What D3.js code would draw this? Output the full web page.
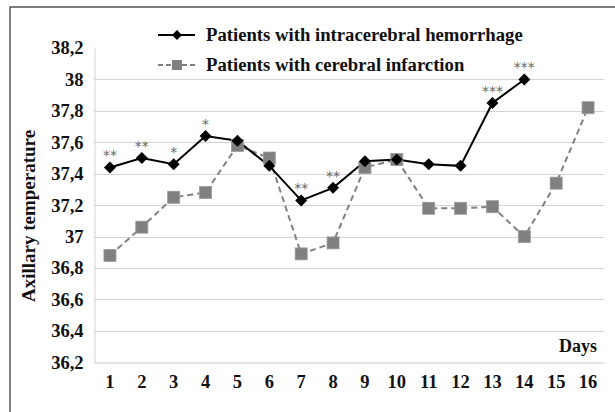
<!DOCTYPE html>
<html>
<head>
<meta charset="utf-8">
<script src="https://cdn.jsdelivr.net/npm/d3@7"></script>
<style>
  body { margin: 0; background: #fff; }
  text { font-family: "Liberation Serif", "DejaVu Serif", serif; }
</style>
</head>
<body>
<script>
var days = ["1","2","3","4","5","6","7","8","9","10","11","12","13","14","15","16"];
var hemorrhage = [37.44, 37.50, 37.46, 37.64, 37.61, 37.45, 37.23, 37.31, 37.48, 37.49, 37.46, 37.45, 37.85, 38.00];
var infarction = [36.88, 37.06, 37.25, 37.28, 37.58, 37.50, 36.89, 36.96, 37.44, 37.49, 37.18, 37.18, 37.19, 37.00, 37.34, 37.82];
var stars = ["**","**","*","*","","","**","**","","","","","***","***"];
var yTicks = [36.2, 36.4, 36.6, 36.8, 37, 37.2, 37.4, 37.6, 37.8, 38, 38.2];
var seriesNames = ["Patients with intracerebral hemorrhage", "Patients with cerebral infarction"];

var svgWidth = 615;
var svgHeight = 412;

var svg = d3.select("body")
            .append("svg")
            .attr("width", svgWidth)
            .attr("height", svgHeight);

// outer frame (runs off the right and bottom like the original crop)
svg.append("rect")
   .attr("x", 10).attr("y", 7)
   .attr("width", 640).attr("height", 440)
   .attr("fill", "none")
   .attr("stroke", "#555")
   .attr("stroke-width", 1.5);

var x = d3.scaleBand()
          .domain(days)
          .range([94, 604]);

var y = d3.scaleLinear()
          .domain([36.2, 38.2])
          .range([362.3, 48]);

var fmt = function(d) { return String(+d.toFixed(1)).replace(".", ","); };

// gridlines
svg.append("g")
   .selectAll("line")
   .data(yTicks.filter(function(d) { return d > 36.2 && d < 38.2; }))
   .enter()
   .append("line")
   .attr("x1", 94).attr("x2", 604)
   .attr("y1", function(d) { return Math.round(y(d)) + 0.5; })
   .attr("y2", function(d) { return Math.round(y(d)) + 0.5; })
   .attr("stroke", "#d4d4d4")
   .attr("stroke-width", 1);

// y axis
var yAxis = d3.axisLeft(y).tickValues(yTicks).tickFormat(fmt).tickSize(0).tickPadding(11);
var gy = svg.append("g")
   .attr("transform", "translate(94.5,0)")
   .call(yAxis);
gy.select(".domain").attr("stroke", "#d4d4d4");
gy.selectAll("text")
  .attr("font-size", "18.5px")
  .attr("font-weight", "bold")
  .attr("fill", "#111")
  .style("font-family", "'Liberation Serif', serif");

// x axis
var xAxis = d3.axisBottom(x).tickSize(0).tickPadding(12);
var gx = svg.append("g")
   .attr("transform", "translate(0," + (Math.round(y(36.2)) + 0.5) + ")")
   .call(xAxis);
gx.select(".domain").attr("stroke", "#c8c8c8");
gx.selectAll("text")
  .attr("font-size", "18.5px")
  .attr("font-weight", "bold")
  .attr("fill", "#111")
  .style("font-family", "'Liberation Serif', serif");

// axis titles
svg.append("text")
   .attr("x", 597).attr("y", 352)
   .attr("text-anchor", "end")
   .attr("font-size", "18px")
   .attr("font-weight", "bold")
   .attr("fill", "#111")
   .text("Days");

svg.append("text")
   .attr("transform", "translate(35,216) rotate(-90)")
   .attr("text-anchor", "middle")
   .attr("font-size", "19px")
   .attr("font-weight", "bold")
   .attr("fill", "#111")
   .text("Axillary temperature");

var cx = function(d, i) { return x(days[i]) + x.bandwidth() / 2; };

// infarction series
var line = d3.line().x(cx).y(function(d) { return y(d); });
svg.append("path")
   .datum(infarction)
   .attr("d", line)
   .attr("fill", "none")
   .attr("stroke", "#808080")
   .attr("stroke-width", 2)
   .attr("stroke-dasharray", "6,4");

// hemorrhage series
svg.append("path")
   .datum(hemorrhage)
   .attr("d", line)
   .attr("fill", "none")
   .attr("stroke", "#000")
   .attr("stroke-width", 2);

svg.selectAll(".sq")
   .data(infarction)
   .enter()
   .append("rect")
   .attr("class", "sq")
   .attr("x", function(d, i) { return cx(d, i) - 6; })
   .attr("y", function(d) { return y(d) - 6; })
   .attr("width", 12).attr("height", 12)
   .attr("fill", "#808080")
   .attr("stroke", "#999")
   .attr("stroke-width", 0.8);

svg.selectAll(".dia")
   .data(hemorrhage)
   .enter()
   .append("path")
   .attr("class", "dia")
   .attr("d", d3.symbol().type(d3.symbolSquare).size(72))
   .attr("transform", function(d, i) { return "translate(" + cx(d, i) + "," + y(d) + ") rotate(45)"; })
   .attr("fill", "#000");

// significance stars
svg.selectAll(".star")
   .data(hemorrhage)
   .enter()
   .append("text")
   .attr("class", "star")
   .attr("x", cx)
   .attr("y", function(d) { return y(d) - 7; })
   .attr("text-anchor", "middle")
   .attr("font-size", "14px")
   .attr("fill", "#666")
   .style("font-family", "'DejaVu Sans', sans-serif")
   .text(function(d, i) { return stars[i]; });

// legend
var legend = svg.append("g");
legend.append("line")
   .attr("x1", 158).attr("x2", 195).attr("y1", 35).attr("y2", 35)
   .attr("stroke", "#000").attr("stroke-width", 2);
legend.append("path")
   .attr("d", d3.symbol().type(d3.symbolSquare).size(50))
   .attr("transform", "translate(177,35) rotate(45)")
   .attr("fill", "#000");
legend.append("line")
   .attr("x1", 158).attr("x2", 195).attr("y1", 65).attr("y2", 65)
   .attr("stroke", "#808080").attr("stroke-width", 2)
   .attr("stroke-dasharray", "5,3");
legend.append("rect")
   .attr("x", 172).attr("y", 60).attr("width", 10).attr("height", 10)
   .attr("fill", "#808080");
legend.selectAll("text")
   .data(seriesNames)
   .enter()
   .append("text")
   .attr("x", 206)
   .attr("y", function(d, i) { return 41 + i * 29.5; })
   .attr("font-size", "18.7px")
   .attr("font-weight", "bold")
   .attr("fill", "#111")
   .text(function(d) { return d; });
</script>
</body>
</html>
